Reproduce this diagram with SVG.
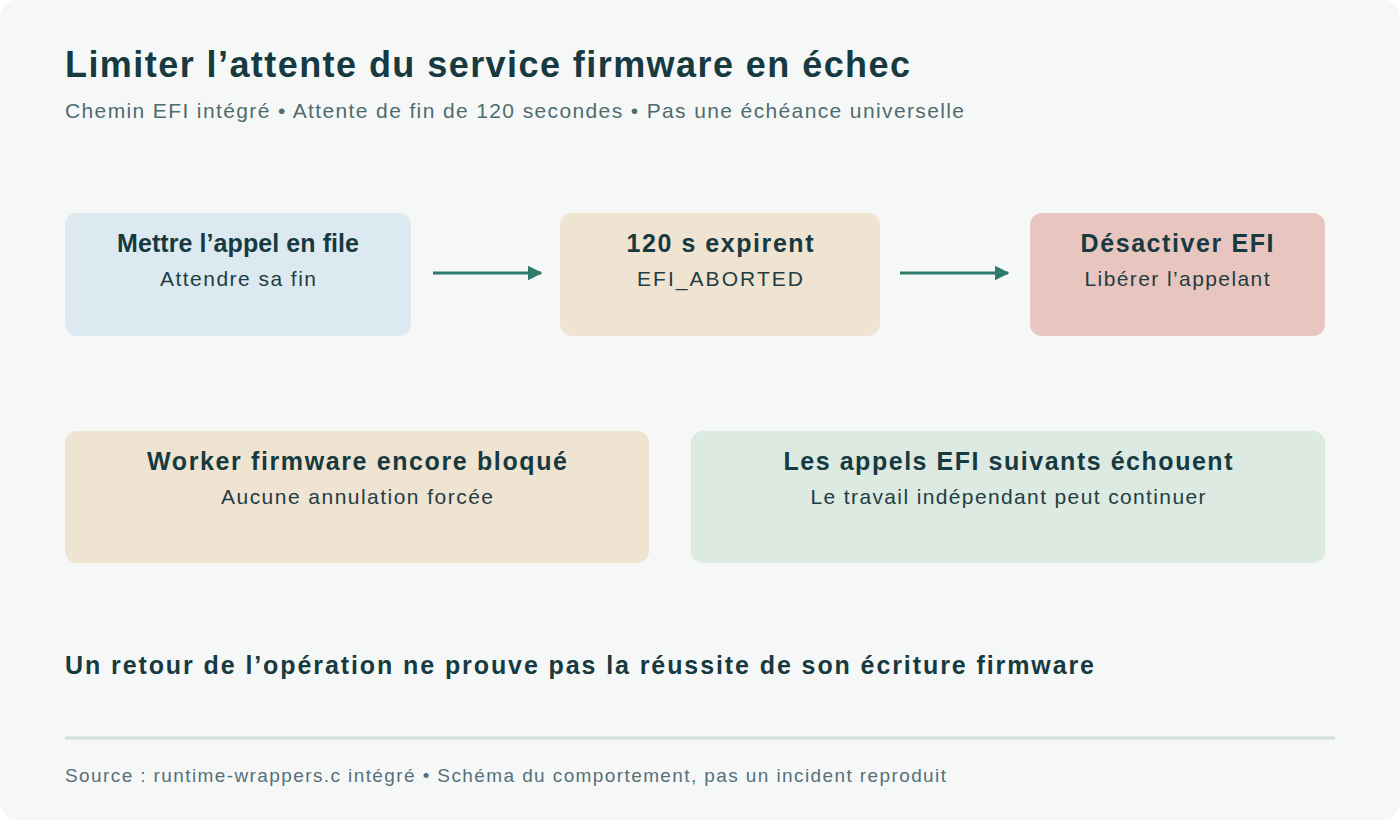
<svg xmlns="http://www.w3.org/2000/svg" width="1400" height="820" viewBox="0 0 1400 820">
<defs>
<style>
text{font-family:"Liberation Sans",Arial,sans-serif}
.t{font-weight:bold;fill:#173a40;text-anchor:middle;font-size:25px}
.s{fill:#1f3d42;text-anchor:middle;font-size:21px}
.c{stroke:#2e7a6b;stroke-width:3;fill:none;marker-end:url(#a)}
</style>
<marker id="a" viewBox="0 0 10 10" refX="9" refY="5" markerWidth="5" markerHeight="5" orient="auto"><path d="M0,0L10,5L0,10z" fill="#2e7a6b"/></marker>
</defs>
<rect width="1400" height="820" fill="#ffffff"/>
<rect x="0" y="0" width="1400" height="820" rx="18" fill="#f6f8f7"/>
<text x="65" y="77" font-size="36" font-weight="bold" fill="#173a40" textLength="845">Limiter l’attente du service firmware en échec</text>
<text x="65" y="118" font-size="21" fill="#4f6b6e" textLength="899">Chemin EFI intégré • Attente de fin de 120 secondes • Pas une échéance universelle</text>
<g id="n1"><rect x="65" y="213" width="346" height="123" rx="12" fill="#dce9f1"/><text class="t" x="238" y="252" font-size="23" textLength="242">Mettre l’appel en file</text><text class="s" x="238" y="286" textLength="156">Attendre sa fin</text></g>
<g id="n2"><rect x="560" y="213" width="320" height="123" rx="12" fill="#efe3d2"/><text class="t" x="720" y="252" textLength="187">120 s expirent</text><text class="s" x="720" y="286" textLength="166">EFI_ABORTED</text></g>
<g id="n3"><rect x="1030" y="213" width="295" height="123" rx="12" fill="#e8c6bf"/><text class="t" x="1177" y="252" textLength="193">Désactiver EFI</text><text class="s" x="1177" y="286" textLength="185">Libérer l’appelant</text></g>
<g id="n4"><rect x="65" y="431" width="584" height="132" rx="12" fill="#efe3d2"/><text class="t" x="357" y="470" textLength="420">Worker firmware encore bloqué</text><text class="s" x="357" y="504" textLength="272">Aucune annulation forcée</text></g>
<g id="n5"><rect x="691" y="431" width="634" height="132" rx="12" fill="#dceae1"/><text class="t" x="1008" y="470" textLength="449">Les appels EFI suivants échouent</text><text class="s" x="1008" y="504" textLength="395">Le travail indépendant peut continuer</text></g>
<g id="connectors"><path class="c" d="M433,273H541"/><path class="c" d="M900,273H1008"/></g>
<text x="65" y="674" font-size="25" font-weight="bold" fill="#173a40" textLength="1029">Un retour de l’opération ne prouve pas la réussite de son écriture firmware</text>
<line x1="65" y1="738" x2="1335" y2="738" stroke="#cfe0df" stroke-width="3"/>
<text x="65" y="782" font-size="19" fill="#55707a" textLength="881">Source : runtime-wrappers.c intégré • Schéma du comportement, pas un incident reproduit</text>
</svg>
